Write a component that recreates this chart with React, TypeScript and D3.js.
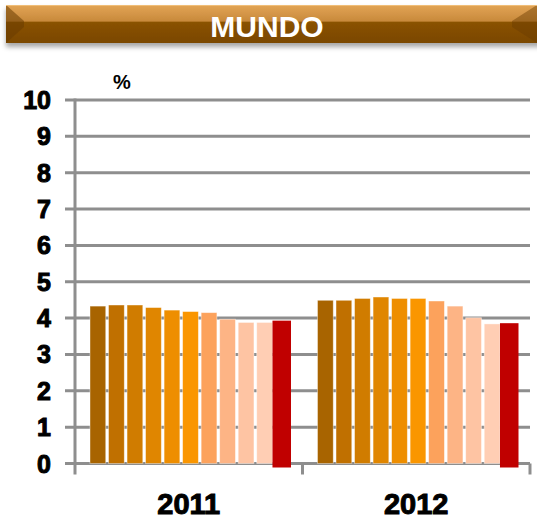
import React from "react";
import * as d3 from "d3";

const categories = ["2011", "2012"];
const forecasts2011 = [4.33, 4.36, 4.36, 4.29, 4.22, 4.18, 4.15, 3.97, 3.88, 3.88];
const forecasts2012 = [4.49, 4.49, 4.54, 4.58, 4.54, 4.54, 4.47, 4.33, 4.01, 3.84];
const actualValues = [3.93, 3.86];
const yTicks = [0, 1, 2, 3, 4, 5, 6, 7, 8, 9, 10];
const barColors = [
  "#A86400", "#C07000", "#D07C00", "#E08600", "#EE8E00",
  "#FA9600", "#FCA25C", "#FDB485", "#FEC4A3", "#FFCEB4",
];
const actualColor = "#C00000";
const title = "MUNDO";
const unitLabel = "%";

export default function App() {
  const W = 537, H = 520;
  const x0 = d3.scaleBand<string>().domain(categories).range([75, 530]).padding(0);
  const y = d3.scaleLinear().domain([0, 10]).range([463.5, 100]);
  const series = [forecasts2011, forecasts2012];
  const inner = d3
    .scaleBand<number>()
    .domain(d3.range(11))
    .range([15, 216])
    .paddingInner(0.15)
    .paddingOuter(0);
  const gap = inner.step() - inner.bandwidth();
  const grid = "#8E8E8E";

  return (
    <svg
      width={W}
      height={H}
      style={{ position: "absolute", left: 0, top: 0, background: "#fff" }}
      fontFamily="'Liberation Sans', Arial, sans-serif"
    >
      <defs>
        <linearGradient id="hdr" x1="0" y1="0" x2="0" y2="1">
          <stop offset="0" stopColor="#E2A455" />
          <stop offset="0.42" stopColor="#C98A3C" />
          <stop offset="0.46" stopColor="#8A5204" />
          <stop offset="1" stopColor="#7A4700" />
        </linearGradient>
        <filter id="sh" x="-5%" y="-30%" width="110%" height="180%">
          <feDropShadow dx="0" dy="4" stdDeviation="2.5" floodColor="#000" floodOpacity="0.35" />
        </filter>
      </defs>

      {/* Header */}
      <g filter="url(#sh)">
        <rect x={6} y={5} width={540} height={38} fill="url(#hdr)" />
      </g>
      <polygon points="6,5 24,21 24,27 6,43" fill="#6A3C00" opacity={0.55} />
      <polygon points="537,5 512,21 512,27 537,43" fill="#6A3C00" opacity={0.45} />
      <line x1={6} y1={5.5} x2={537} y2={5.5} stroke="#F0BE78" strokeWidth={1} />
      <text
        x={267}
        y={37}
        textAnchor="middle"
        fill="#fff"
        fontWeight="bold"
        fontSize={30}
      >
        {title}
      </text>

      {/* Gridlines */}
      {yTicks.map((t) => (
        <line
          key={"g" + t}
          x1={65}
          x2={530}
          y1={y(t)}
          y2={y(t)}
          stroke={grid}
          strokeWidth={3}
        />
      ))}
      {/* Y axis */}
      <line x1={75} x2={75} y1={y(10) - 1.5} y2={y(0) + 11} stroke={grid} strokeWidth={3} />
      {categories.map((c) => (
        <line
          key={"ct" + c}
          x1={(x0(c) as number) + x0.bandwidth()}
          x2={(x0(c) as number) + x0.bandwidth()}
          y1={y(0)}
          y2={y(0) + 11}
          stroke={grid}
          strokeWidth={3}
        />
      ))}

      {/* Bars */}
      {categories.map((c, ci) => {
        const bx = x0(c) as number;
        return (
          <g key={"b" + c}>
            {series[ci].map((v, i) => (
              <rect
                key={i}
                x={bx + (inner(i) as number)}
                y={y(v)}
                width={inner.bandwidth()}
                height={y(0) - y(v)}
                fill={barColors[i]}
                stroke="#fff"
                strokeOpacity={0.5}
                strokeWidth={0.8}
              />
            ))}
            <rect
              x={bx + (inner(10) as number) - gap}
              y={y(actualValues[ci])}
              width={inner.bandwidth() + gap}
              height={y(0) - y(actualValues[ci]) + 4}
              fill={actualColor}
            />
          </g>
        );
      })}

      {/* Y tick labels */}
      {yTicks.map((t) => (
        <text
          key={"l" + t}
          x={51}
          y={y(t)}
          dy="0.36em"
          textAnchor="end"
          fontWeight="bold"
          fontSize={25}
          fill="#000"
          stroke="#000"
          strokeWidth={1}
        >
          {t}
        </text>
      ))}
      <text x={122} y={89} textAnchor="middle" fontWeight="bold" fontSize={20} fill="#000">
        {unitLabel}
      </text>

      {/* Category labels */}
      {categories.map((c) => (
        <text
          key={"c" + c}
          x={(x0(c) as number) + x0.bandwidth() / 2}
          y={514}
          textAnchor="middle"
          fontWeight="bold"
          fontSize={29}
          fill="#000"
          stroke="#000"
          strokeWidth={1}
        >
          {c}
        </text>
      ))}
    </svg>
  );
}
